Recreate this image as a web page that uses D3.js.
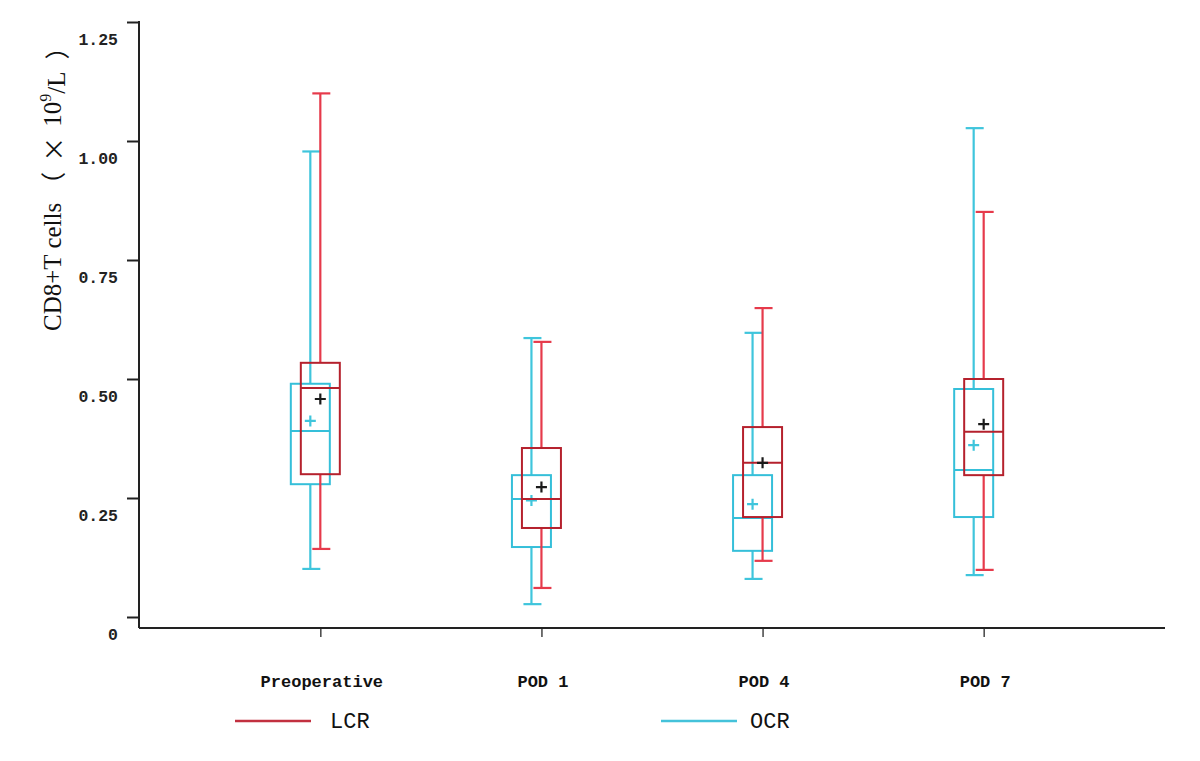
<!DOCTYPE html>
<html>
<head>
<meta charset="utf-8">
<script src="https://cdn.jsdelivr.net/npm/d3@7"></script>
<style>
  html, body { margin: 0; padding: 0; background: #ffffff; }
  svg { display: block; }
</style>
</head>
<body>
<svg id="chart" width="1200" height="761"></svg>
<script>
// ---- data ----
const categories = ["Preoperative", "POD 1", "POD 4", "POD 7"];
const seriesNames = ["OCR", "LCR"];

const lcrMin    = [0.143, 0.061, 0.118, 0.099];
const lcrQ1     = [0.300, 0.187, 0.210, 0.298];
const lcrMedian = [0.481, 0.248, 0.324, 0.389];
const lcrQ3     = [0.534, 0.355, 0.399, 0.500];
const lcrMax    = [1.100, 0.578, 0.649, 0.851];
const lcrMean   = [0.458, 0.273, 0.324, 0.405];

const ocrMin    = [0.101, 0.027, 0.080, 0.088];
const ocrQ1     = [0.279, 0.147, 0.139, 0.210];
const ocrMedian = [0.391, 0.248, 0.208, 0.309];
const ocrQ3     = [0.490, 0.298, 0.298, 0.479];
const ocrMax    = [0.978, 0.586, 0.597, 1.027];
const ocrMean   = [0.412, 0.245, 0.237, 0.361];

const yTickValues = [0, 0.25, 0.5, 0.75, 1.0, 1.25];
const yTickLabels = ["0", "0.25", "0.50", "0.75", "1.00", "1.25"];

// ---- build table ----
function rows(name, mn, q1, md, q3, mx, mean) {
  return categories.map((c, i) => ({ series: name, cat: c, min: mn[i], q1: q1[i], median: md[i], q3: q3[i], max: mx[i], mean: mean[i] }));
}
const boxes = [
  ...rows("OCR", ocrMin, ocrQ1, ocrMedian, ocrQ3, ocrMax, ocrMean),
  ...rows("LCR", lcrMin, lcrQ1, lcrMedian, lcrQ3, lcrMax, lcrMean)
];

// ---- styles ----
const whiskerColor = { LCR: "#e63a4b", OCR: "#3fc5dc" };
const boxColor     = { LCR: "#b5212d", OCR: "#35bfd9" };
const meanColor    = { LCR: "#1a1a1a", OCR: "#3fc5dc" };
const legendColor  = { LCR: "#c23040", OCR: "#44c2da" };

const svg = d3.select("#chart");

const axisLeftX = 139, axisBottomY = 628, axisRightX = 1165, axisTopY = 22;

const x = d3.scalePoint().domain(categories).range([axisLeftX, axisRightX]).padding(0.82);
const offset = d3.scaleOrdinal().domain(seriesNames).range([-10, 0]);
const y = d3.scaleLinear().domain([0, 1.25]).range([617, 22]);

const boxW = 39, capW = 18;

// ---- axes ----
const yAxis = d3.axisLeft(y)
  .tickValues(yTickValues)
  .tickFormat((d, i) => yTickLabels[i])
  .tickSize(12)
  .tickSizeOuter(0)
  .tickPadding(9);

const gy = svg.append("g").attr("transform", `translate(${axisLeftX},0)`).call(yAxis);
gy.select(".domain").remove();
gy.selectAll(".tick line").attr("stroke", "#222").attr("stroke-width", 2);
gy.selectAll(".tick text")
  .attr("dy", "1.35em")
  .attr("fill", "#222")
  .style("font-family", "'Liberation Mono', 'DejaVu Sans Mono', monospace")
  .style("font-weight", "bold")
  .style("font-size", "16.5px");

svg.append("line")
  .attr("x1", axisLeftX).attr("x2", axisLeftX)
  .attr("y1", axisTopY - 1).attr("y2", axisBottomY)
  .attr("stroke", "#222").attr("stroke-width", 2);

const xAxis = d3.axisBottom(x).tickSize(9).tickSizeOuter(0).tickPadding(38);
const gx = svg.append("g").attr("transform", `translate(0,${axisBottomY})`).call(xAxis);
gx.select(".domain").remove();
gx.selectAll(".tick line").attr("stroke", "#444").attr("stroke-width", 1.5);
gx.selectAll(".tick text")
  .attr("fill", "#111")
  .attr("dx", 1)
  .style("font-family", "'Liberation Mono', 'DejaVu Sans Mono', monospace")
  .style("font-weight", "bold")
  .style("font-size", "17px");

svg.append("line")
  .attr("x1", axisLeftX).attr("x2", axisRightX)
  .attr("y1", axisBottomY).attr("y2", axisBottomY)
  .attr("stroke", "#222").attr("stroke-width", 2);

// ---- y title ----
const cjk = "'Noto Sans CJK SC', sans-serif";
const title = svg.append("text")
  .attr("transform", `translate(52,331) rotate(-90)`)
  .attr("text-anchor", "start")
  .attr("dominant-baseline", "central")
  .attr("fill", "#111")
  .style("font-family", "'Liberation Serif', 'Times New Roman', serif")
  .style("font-size", "25px");
title.append("tspan").text("CD8+T cells");
title.append("tspan").attr("dx", 6).style("font-family", cjk).style("font-size", "25px").text("（");
title.append("tspan").attr("dx", 10).style("font-family", cjk).style("font-size", "25px").text("×");
title.append("tspan").attr("dx", 10).text("10");
title.append("tspan").attr("dy", "-0.45em").style("font-size", "16px").text("9");
title.append("tspan").attr("dy", "0.45em").text("/L");
title.append("tspan").attr("dx", 12).style("font-family", cjk).style("font-size", "25px").text("）");

// ---- boxes ----
const g = svg.append("g");
const cx = d => x(d.cat) + offset(d.series);

const bg = g.selectAll("g.box").data(boxes).join("g").attr("class", "box");

// whiskers
bg.append("line")
  .attr("x1", cx).attr("x2", cx)
  .attr("y1", d => y(d.q3)).attr("y2", d => y(d.max))
  .attr("stroke", d => whiskerColor[d.series]).attr("stroke-width", 2.2);
bg.append("line")
  .attr("x1", cx).attr("x2", cx)
  .attr("y1", d => y(d.q1)).attr("y2", d => y(d.min))
  .attr("stroke", d => whiskerColor[d.series]).attr("stroke-width", 2.2);
// caps
bg.append("line")
  .attr("x1", d => cx(d) - capW / 2 + 1).attr("x2", d => cx(d) + capW / 2 + 1)
  .attr("y1", d => y(d.max)).attr("y2", d => y(d.max))
  .attr("stroke", d => whiskerColor[d.series]).attr("stroke-width", 2.2);
bg.append("line")
  .attr("x1", d => cx(d) - capW / 2 + 1).attr("x2", d => cx(d) + capW / 2 + 1)
  .attr("y1", d => y(d.min)).attr("y2", d => y(d.min))
  .attr("stroke", d => whiskerColor[d.series]).attr("stroke-width", 2.2);
// box
bg.append("rect")
  .attr("x", d => cx(d) - boxW / 2)
  .attr("width", boxW)
  .attr("y", d => y(d.q3))
  .attr("height", d => y(d.q1) - y(d.q3))
  .attr("fill", "none")
  .attr("stroke", d => boxColor[d.series]).attr("stroke-width", 2);
// median
bg.append("line")
  .attr("x1", d => cx(d) - boxW / 2).attr("x2", d => cx(d) + boxW / 2)
  .attr("y1", d => y(d.median)).attr("y2", d => y(d.median))
  .attr("stroke", d => boxColor[d.series]).attr("stroke-width", 2);
// mean marker
bg.append("path")
  .attr("d", d => {
    const px = cx(d), py = y(d.mean), s = 5.5;
    return `M${px - s},${py}H${px + s}M${px},${py - s}V${py + s}`;
  })
  .attr("stroke", d => meanColor[d.series]).attr("stroke-width", 2.2).attr("fill", "none");

// ---- legend ----
const legendItems = [
  { name: "LCR", x0: 235 },
  { name: "OCR", x0: 661 }
];
const lg = svg.selectAll("g.legend").data(legendItems).join("g").attr("class", "legend");
lg.append("line")
  .attr("x1", d => d.x0).attr("x2", d => d.x0 + 76)
  .attr("y1", 721).attr("y2", 721)
  .attr("stroke", d => legendColor[d.name]).attr("stroke-width", 2.5);
lg.append("text")
  .attr("x", d => d.x0 + (d.name === "LCR" ? 95 : 89))
  .attr("y", 722)
  .attr("dominant-baseline", "central")
  .attr("fill", "#111")
  .style("font-family", "'Liberation Mono', 'DejaVu Sans Mono', monospace")
  .style("font-size", "22px")
  .text(d => d.name);
</script>
</body>
</html>
